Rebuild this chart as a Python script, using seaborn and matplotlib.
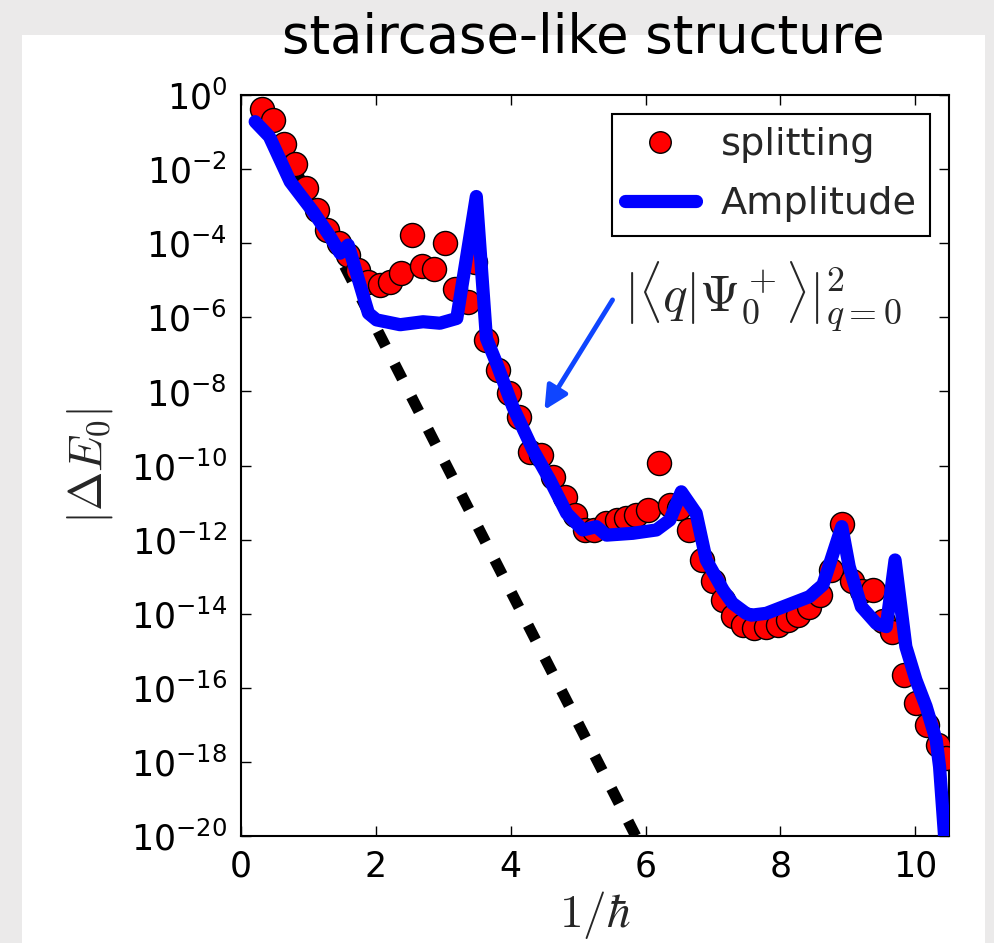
import numpy as np
import pandas as pd
import seaborn as sns
import matplotlib
matplotlib.use("Agg")
import matplotlib.pyplot as plt
from matplotlib.patches import Rectangle
from matplotlib.lines import Line2D
from matplotlib.ticker import FixedLocator, NullLocator, LogFormatterMathtext

# Tunnel splitting |dE_0| versus 1/hbar (stored as log10 of the value)
inv_hbar_split = [0.31, 0.47, 0.64, 0.80, 0.97, 1.12, 1.28, 1.45, 1.59, 1.74,
                  1.89, 2.06, 2.21, 2.38, 2.54, 2.69, 2.86, 3.02, 3.17, 3.37,
                  3.47, 3.64, 3.81, 3.97, 4.13, 4.28, 4.45, 4.63, 4.80, 4.96,
                  5.10, 5.24, 5.42, 5.57, 5.71, 5.86, 6.03, 6.20, 6.36, 6.50,
                  6.65, 6.84, 7.00, 7.15, 7.29, 7.44, 7.61, 7.79, 7.96, 8.11,
                  8.26, 8.43, 8.58, 8.75, 8.91, 9.06, 9.21, 9.37, 9.52, 9.66,
                  9.84, 10.01, 10.17, 10.33, 10.45]
splitting_log10 = [-0.39, -0.67, -1.33, -1.86, -2.50, -3.10, -3.64, -4.00, -4.32, -4.72,
                   -5.04, -5.13, -5.04, -4.80, -3.78, -4.62, -4.70, -3.99, -5.24, -5.58,
                   -4.50, -6.62, -7.42, -8.05, -8.68, -9.63, -9.72, -10.30, -10.84, -11.34,
                   -11.74, -11.74, -11.56, -11.47, -11.43, -11.34, -11.20, -9.94, -11.07, -11.16,
                   -11.74, -12.55, -13.13, -13.63, -14.06, -14.30, -14.39, -14.35, -14.30, -14.17,
                   -14.04, -13.81, -13.50, -12.82, -11.58, -13.13, -13.40, -13.36, -14.21, -14.50,
                   -15.65, -16.42, -17.00, -17.54, -17.90]

# Amplitude |<q|Psi_0^+>|^2 at q=0 (log10)
inv_hbar_amp = [0.21, 0.42, 0.73, 1.07, 1.32, 1.47, 1.59, 1.89, 2.01, 2.36,
                2.70, 2.95, 3.20, 3.49, 3.64, 3.79, 4.03, 4.33, 4.58, 4.83,
                5.07, 5.27, 5.42, 5.81, 6.16, 6.36, 6.53, 6.75, 6.90, 7.15,
                7.29, 7.49, 7.57, 7.79, 8.43, 8.63, 8.91, 9.02, 9.20, 9.42,
                9.57, 9.70, 9.86, 10.01, 10.16, 10.31, 10.36, 10.43, 10.47]
amplitude_log10 = [-0.72, -1.12, -2.34, -3.15, -3.82, -4.27, -4.05, -5.89, -6.07, -6.20,
                   -6.12, -6.16, -6.03, -2.74, -6.57, -7.24, -8.41, -9.58, -10.39, -11.29,
                   -11.74, -11.65, -11.88, -11.83, -11.74, -11.47, -10.71, -11.29, -12.55, -13.36,
                   -13.72, -13.99, -14.04, -13.99, -13.54, -13.22, -11.65, -12.73, -13.81, -14.26,
                   -14.35, -12.55, -14.89, -15.79, -16.50, -17.41, -18.13, -19.90, -21.00]

# Straight-line instanton estimate (log10)
instanton_x = [0.30, 6.00]
instanton_log10 = [-0.21, -20.52]

x_ticks = [0, 2, 4, 6, 8, 10]
y_tick_exponents = [0, -2, -4, -6, -8, -10, -12, -14, -16, -18, -20]

split_df = pd.DataFrame({"inv_hbar": inv_hbar_split,
                         "dE": 10.0 ** np.array(splitting_log10)})
amp_df = pd.DataFrame({"inv_hbar": inv_hbar_amp,
                       "amp": 10.0 ** np.array(amplitude_log10)})
inst_df = pd.DataFrame({"inv_hbar": instanton_x,
                        "dE": 10.0 ** np.array(instanton_log10)})

sns.set_theme(style="ticks")
plt.rcParams["font.family"] = ["DejaVu Sans"]
plt.rcParams["mathtext.fontset"] = "cm"
plt.rcParams["axes.unicode_minus"] = False

W, H = 995, 943
fig = plt.figure(figsize=(W / 100, H / 100), dpi=100)
fig.patch.set_facecolor("#ebeaea")
fig.add_artist(Rectangle((22 / W, 0), (985 - 22) / W, (H - 35) / H,
                         transform=fig.transFigure, facecolor="white",
                         edgecolor="none", zorder=0))

ax = fig.add_axes([241 / W, 1 - 836 / H, (949 - 241) / W, (836 - 95) / H])
ax.set_facecolor("white")

sns.lineplot(data=inst_df, x="inv_hbar", y="dE", ax=ax, color="black",
             lw=8, sort=False, estimator=None, zorder=2, legend=False)
ax.lines[-1].set_dashes((1.5, 1.8))
ax.lines[-1].set_dash_capstyle("butt")

sns.scatterplot(data=split_df, x="inv_hbar", y="dE", ax=ax, color="red",
                s=300, edgecolor="black", linewidth=1, zorder=3, legend=False)

sns.lineplot(data=amp_df, x="inv_hbar", y="amp", ax=ax, color="blue",
             lw=9.5, sort=False, estimator=None, zorder=4, legend=False)
ax.lines[-1].set_solid_joinstyle("round")

ax.set_yscale("log")
ax.set_xlim(0, 10.5)
ax.set_ylim(1e-20, 1)
ax.xaxis.set_major_locator(FixedLocator(x_ticks))
ax.yaxis.set_major_locator(FixedLocator([10.0 ** e for e in y_tick_exponents]))
ax.yaxis.set_minor_locator(NullLocator())
ax.xaxis.set_minor_locator(NullLocator())
ax.yaxis.set_major_formatter(LogFormatterMathtext())
ax.tick_params(which="major", direction="in", length=7, width=1,
               top=True, right=True, labelsize=25, pad=10, colors="black")
for sp in ax.spines.values():
    sp.set_linewidth(1.5)
    sp.set_color("black")

ax.set_xlabel(r"$1/\hbar$", fontsize=34)
ax.set_ylabel(r"$|\Delta E_0|$", fontsize=34)
ax.xaxis.set_label_coords(0.5, -0.072)
ax.yaxis.set_label_coords(-0.178, 0.5)

handles = [
    Line2D([], [], linestyle="none", marker="o", markersize=15.5,
           markerfacecolor="red", markeredgecolor="black", markeredgewidth=1),
    Line2D([], [], color="blue", lw=9.5),
]
leg = ax.legend(handles, ["splitting", "Amplitude"], loc="upper right",
                fontsize=27.5, numpoints=1, handlelength=1.85, fancybox=False,
                framealpha=1, edgecolor="black", borderaxespad=0.5,
                handletextpad=0.65, labelspacing=0.6, borderpad=0.35)
leg.get_frame().set_linewidth(1.5)

ax.text(5.68, 10 ** -5.45, r"$|\langle q|\Psi_0^+\rangle|^2_{q=0}$",
        fontsize=37, ha="left", va="center", zorder=5)
ax.annotate("", xy=(4.50, 10 ** -8.5), xytext=(5.51, 10 ** -5.53),
            arrowprops=dict(arrowstyle="-|>", color="#0f45ff", lw=3.5,
                            mutation_scale=35, shrinkA=0, shrinkB=0),
            zorder=5)

fig.text(583 / W, 1 - 38 / H, "staircase-like structure", fontsize=38,
         ha="center", va="center", color="black")

fig.savefig("out.png", dpi=100, facecolor=fig.get_facecolor())
